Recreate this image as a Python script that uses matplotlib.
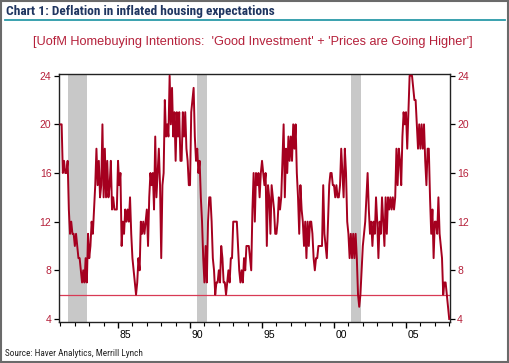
import numpy as np
import matplotlib
matplotlib.use('Agg')
import matplotlib.pyplot as plt
from matplotlib import font_manager
from matplotlib.patches import Rectangle
from matplotlib.lines import Line2D

plt.rcParams['font.family'] = ['Liberation Sans', 'DejaVu Sans']

# UofM homebuying intentions, monthly from Jan 1981
start_year = 1981
values = [
    20, 20, 16, 17, 16, 16, 17, 13, 11, 12, 11, 11,   # 1981
    10, 11, 10, 9, 9, 8, 7, 8, 7, 9, 7, 11,           # 1982
    9, 10, 12, 11, 13, 15, 18, 15, 17, 14, 15, 20,    # 1983
    14, 18, 14, 17, 14, 15, 17, 13, 14, 13, 13, 13,   # 1984
    17, 15, 16, 10, 12, 11, 13, 12, 13, 12, 14, 11,   # 1985
    9, 8, 7, 6, 7, 9, 8, 12, 11, 12, 11, 12,          # 1986
    13, 10, 14, 16, 15, 16, 13, 19, 14, 16, 18, 15,   # 1987
    9, 15, 16, 22, 19, 20, 19, 24, 20, 23, 19, 21,    # 1988
    17, 21, 19, 21, 17, 17, 21, 19, 21, 18, 17, 15,   # 1989
    15, 21, 22, 23, 19, 17, 18, 16, 17, 14, 12, 9,    # 1990
    7, 10, 7, 12, 14, 14, 12, 9, 8, 6, 7, 7,          # 1991
    8, 7, 10, 9, 7, 7, 6, 7, 8, 7, 9, 9,              # 1992
    12, 12, 12, 12, 10, 8, 7, 8, 7, 9, 8, 10,         # 1993
    10, 10, 9, 8, 13, 16, 12, 16, 15, 16, 14, 16,     # 1994
    17, 16, 15, 16, 10, 15, 14, 11, 15, 14, 13, 11,   # 1995
    11, 12, 14, 13, 14, 17, 20, 14, 18, 16, 19, 17,   # 1996
    19, 17, 20, 18, 20, 16, 14, 11, 15, 13, 12, 10,   # 1997
    12, 9, 12, 10, 12, 12, 11, 9, 8, 9, 9, 10,        # 1998
    10, 10, 10, 15, 11, 10, 9, 12, 15, 16, 16, 15,    # 1999
    15, 14, 15, 14, 14, 15, 18, 16, 14, 18, 16, 12,   # 2000
    11, 9, 11, 9, 11, 9, 11, 9, 6, 5, 6, 8,           # 2001
    10, 11, 12, 14, 16, 13, 11, 12, 10, 12, 11, 14,   # 2002
    12, 9, 12, 11, 14, 12, 10, 14, 11, 14, 13, 14,    # 2003
    13, 14, 13, 14, 18, 15, 18, 17, 15, 19, 21, 20,   # 2004
    21, 18, 21, 24, 24, 24, 23, 22, 22, 20, 18, 20,   # 2005
    18, 20, 18, 20, 17, 15, 18, 18, 14, 11, 13, 9,    # 2006
    12, 12, 11, 14, 11, 10, 9, 6, 7, 7, 6, 5,         # 2007
    4,                                                # 2008
]
dates = start_year + np.arange(len(values)) / 12.0

# NBER recessions (decimal years)
recessions = [(1981.5, 1982.87), (1990.5, 1991.2), (2001.2, 2001.87)]
threshold = 6

yticks = [4, 8, 12, 16, 20, 24]
year_labels = ['85', '90', '95', '00', '05']
label_years = [1985, 1990, 1995, 2000, 2005]

line_red = '#a5001f'
text_red = '#b5203a'


def installed(fam):
    try:
        font_manager.findfont(font_manager.FontProperties(family=fam),
                              fallback_to_default=False)
        return True
    except ValueError:
        return False


# header/footer are in a narrow face in the original; shrink plain Arial-alike if none
narrow = next((f for f in ['Liberation Sans Narrow', 'Roboto Condensed',
                           'Open Sans Condensed', 'DejaVu Sans Condensed'] if installed(f)), None)
if narrow:
    head_font, head_size, src_size = [narrow, 'Liberation Sans'], 9.6, 6.7
else:
    head_font, head_size, src_size = ['Liberation Sans'], 8.2, 5.6

fig = plt.figure(figsize=(5.1, 3.63), dpi=100)
ax = fig.add_axes([59 / 510, 1 - 322 / 363, 390.5 / 510, 248 / 363])

for a, b in recessions:
    ax.axvspan(a, b, color='#c8c8c8', lw=0, zorder=1)
ax.axhline(threshold, color='#d83a55', lw=0.9, zorder=2)
ax.plot(dates, values, color=line_red, lw=1.4, zorder=3)

ax.set_xlim(1980.9, 2008.02)
ax.set_ylim(3.75, 24.14)

ax.set_yticks(yticks)
ax.tick_params(axis='y', which='both', left=True, right=True, labelleft=True,
               labelright=True, direction='out', length=3.5, width=0.9,
               labelsize=7.5, labelcolor=text_red, pad=2)

ax.set_xticks(label_years)
ax.set_xticklabels([])
ax.set_xticks(np.arange(1981, 2009), minor=True)
ax.tick_params(axis='x', which='major', direction='out', length=4.5, width=1.0)
ax.tick_params(axis='x', which='minor', direction='out', length=3, width=0.8)

sec = ax.secondary_xaxis('bottom')
sec.set_xticks([y + 0.5 for y in label_years], year_labels)
sec.tick_params(length=0, pad=6, labelsize=7.5)
sec.spines['bottom'].set_visible(False)

for s in ax.spines.values():
    s.set_color('#222222')
    s.set_linewidth(1.0)

# header and footer
fig.text(6 / 510, 1 - 12 / 363, 'Chart 1: Deflation in inflated housing expectations',
         family=head_font, fontweight='bold',
         fontsize=head_size, color='#1f3560', va='center', ha='left')
fig.add_artist(Line2D([5 / 510, 505 / 510], [1 - 19.5 / 363] * 2, color='#2a9aa8', lw=1.3))
fig.text(253 / 510, 1 - 42 / 363,
         "[UofM Homebuying Intentions:  'Good Investment' + 'Prices are Going Higher']",
         fontsize=9.2, color=text_red, ha='center', va='center')
fig.text(5 / 510, 1 - 353 / 363, 'Source: Haver Analytics, Merrill Lynch',
         family=head_font, fontsize=src_size,
         color='#222222', va='center', ha='left')

fig.add_artist(Rectangle((0.002, 0.003), 0.995, 0.995, transform=fig.transFigure,
                         fill=False, edgecolor='#6a6a6a', lw=1.5))

fig.savefig('out.png', dpi=100)
